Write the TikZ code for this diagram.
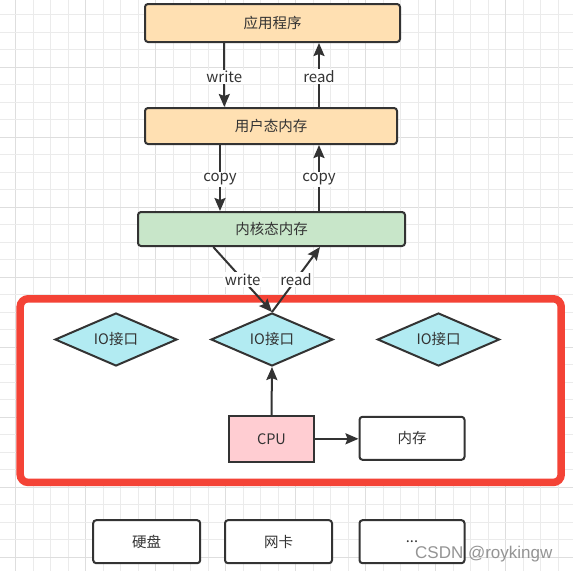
\documentclass[tikz,border=0pt]{standalone}
\usepackage{fontspec}
\setmainfont{Noto Sans CJK SC}
\newfontfamily\wmfont{Liberation Sans}
\usetikzlibrary{shapes.geometric,arrows.meta}
\definecolor{linec}{HTML}{333333}
\definecolor{textc}{HTML}{333333}
\definecolor{orangef}{HTML}{FFE0B2}
\definecolor{greenf}{HTML}{C8E6C9}
\definecolor{cyanf}{HTML}{B2EBF2}
\definecolor{pinkf}{HTML}{FFCDD2}
\definecolor{redc}{HTML}{F44336}
\definecolor{gridminor}{HTML}{EBEBEB}
\definecolor{gridmajor}{HTML}{DEDEDE}
\begin{document}
\begin{tikzpicture}[x=1pt,y=-1pt,
  txt/.style={font=\fontsize{14.5}{17}\selectfont, text=textc},
  obox/.style={txt, draw=linec, line width=2pt, rounded corners=3pt, inner sep=0pt},
  dia/.style={txt, diamond, draw=linec, line width=2pt, fill=cyanf, inner sep=0pt, aspect=2.3, minimum width=122pt, minimum height=53pt},
  frame/.style={draw=redc, line width=7.5pt, fill=white, rounded corners=8pt, inner sep=0pt},
  arr/.style={draw=linec, line width=2pt, -{Stealth[length=13pt,width=11pt,inset=2pt]}},
  lab/.style={font=\fontsize{15}{17}\selectfont, text=textc, fill=white, inner sep=1.5pt}]
\useasboundingbox (0,0) rectangle (573,571);
\fill[white] (0,0) rectangle (573,571);
% grid
\foreach \k in {0,...,31}{
  \pgfmathtruncatemacro{\mx}{mod(\k,4)}
  \pgfmathtruncatemacro{\my}{mod(\k+1,4)}
  \ifnum\mx=0 \draw[gridmajor, line width=1pt] ({15.6+17.5*\k},0) -- ({15.6+17.5*\k},571);
  \else \draw[gridminor, line width=1pt] ({15.6+17.5*\k},0) -- ({15.6+17.5*\k},571); \fi
  \ifnum\my=0 \draw[gridmajor, line width=1pt] (0,{14.5+17.5*\k}) -- (573,{14.5+17.5*\k});
  \else \draw[gridminor, line width=1pt] (0,{14.5+17.5*\k}) -- (573,{14.5+17.5*\k}); \fi
}
% red frame
\node[frame, minimum width=541pt, minimum height=183.7pt] (frm) at (290.7,390.6) {};
% top boxes
\node[obox, fill=orangef, minimum width=255pt, minimum height=38pt] (app) at (272.5,23) {应用程序};
\node[obox, fill=orangef, minimum width=252pt, minimum height=36pt] (user) at (271,126) {用户态内存};
\node[obox, fill=greenf, minimum width=267pt, minimum height=34pt] (kernel) at (271.5,229) {内核态内存};
% diamonds
\node[dia] (io1) at (116,339.5) {IO接口};
\node[dia] (io2) at (272,339.5) {IO接口};
\node[dia] (io3) at (438.5,339.5) {IO接口};
% cpu and memory
\node[obox, fill=pinkf, rounded corners=0pt, minimum width=85pt, minimum height=46pt] (cpu) at (271.5,438.8) {CPU};
\node[obox, fill=white, minimum width=105pt, minimum height=43pt] (mem) at (412,438.3) {内存};
% bottom devices
\node[obox, fill=white, minimum width=107pt, minimum height=43pt] (disk) at (146.7,541.7) {硬盘};
\node[obox, fill=white, minimum width=107pt, minimum height=43pt] (nic) at (278.5,541.7) {网卡};
\node[obox, fill=white, minimum width=105pt, minimum height=43pt] (more) at (412,541.7) {...};
% arrows
\draw[arr] (224.3,0 |- app.south) -- node[lab, pos=0.53] {write} (224.3,0 |- user.north);
\draw[arr] (319,0 |- user.north) -- node[lab, pos=0.47] {read} (319,0 |- app.south);
\draw[arr] (220,0 |- user.south) -- node[lab, pos=0.52] {copy} (220,0 |- kernel.north);
\draw[arr] (319,0 |- kernel.north) -- node[lab, pos=0.48] {copy} (319,0 |- user.south);
\draw[arr] (213.3,0 |- kernel.south) -- node[lab, midway] {write} (io2.north);
\draw[arr] (io2.north) -- node[lab, midway] {read} (320,0 |- kernel.south);
\draw[arr] (cpu.north) -- (io2.south);
\draw[arr] (cpu.east) -- (cpu.east -| mem.west);
% watermark
\node[anchor=base west, inner sep=0pt, text=black!42, font=\wmfont\fontsize{17}{20}\selectfont] (wm) at (415,558) {CSDN @roykingw};
\end{tikzpicture}
\end{document}
